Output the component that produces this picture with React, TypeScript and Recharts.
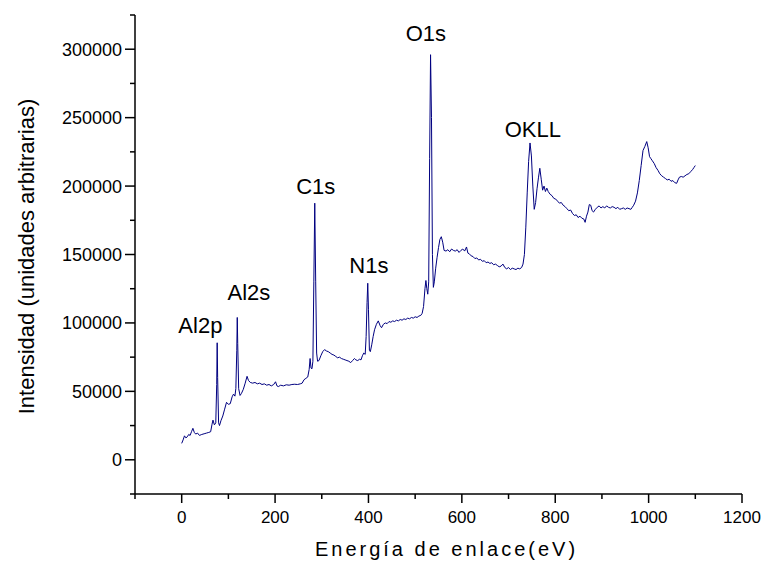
import { Label, Line, LineChart, ReferenceDot, XAxis, YAxis } from "recharts";

// binding energy (eV) and intensity (arb. units)
const energy = [
  0, 3, 6, 9, 12, 15, 18, 21, 24, 27, 30, 34, 38, 43, 48, 53, 58, 62, 65, 67,
  70, 73, 75, 76, 77, 79, 81, 84, 88, 92, 96, 100, 104, 108, 111, 114, 116, 118,
  119, 120, 122, 125, 128, 132, 136, 140, 143, 147, 152, 157, 162, 167, 172, 177,
  182, 187, 192, 197, 201, 204, 207, 212, 218, 224, 230, 236, 242, 248, 254, 258,
  262, 266, 270, 273, 275, 277, 279, 281, 283, 285, 287, 289, 291, 294, 298, 302,
  306, 310, 314, 318, 322, 326, 330, 334, 338, 342, 346, 350, 354, 358, 362, 366,
  370, 373, 377, 381, 384, 387, 390, 393, 395, 397, 398.5, 400, 402, 404, 407, 410,
  413, 417, 421, 425, 428, 432, 436, 440, 444, 448, 452, 456, 460, 464, 468, 472,
  476, 480, 484, 488, 492, 496, 500, 504, 508, 512, 515, 518, 521, 523, 525, 527,
  529, 531, 533, 535, 537, 539, 541, 544, 547, 550, 553, 556, 559, 562, 566, 570,
  574, 578, 582, 586, 590, 594, 598, 602, 606, 610, 613, 616, 620, 624, 628, 632,
  636, 640, 644, 648, 652, 656, 660, 664, 668, 672, 676, 680, 684, 688, 692, 696,
  700, 704, 708, 712, 716, 720, 724, 728, 731, 734, 737, 740, 743, 746, 749, 752,
  755, 758, 761, 764, 767, 770, 773, 776, 779, 782, 785, 789, 793, 797, 801, 805,
  809, 813, 817, 821, 825, 829, 833, 837, 841, 845, 849, 853, 857, 861, 864, 867,
  870, 873, 876, 879, 882, 886, 890, 894, 898, 902, 906, 910, 914, 918, 922, 926,
  930, 934, 938, 942, 946, 950, 954, 958, 962, 965, 968, 972, 976, 980, 984, 988,
  992, 996, 999, 1002, 1005, 1008, 1012, 1016, 1020, 1024, 1028, 1032, 1036, 1040,
  1044, 1048, 1052, 1056, 1060, 1063, 1066, 1070, 1074, 1078, 1082, 1086, 1090,
  1094, 1097, 1100,
];

const intensity = [
  12000, 14500, 17500, 16000, 16800, 18500, 17800, 20500, 23000, 20000, 18800,
  19500, 17800, 18500, 19000, 19500, 20000, 20500, 26000, 29000, 25500, 27000,
  55000, 85500, 60000, 27000, 25000, 28500, 32000, 37000, 42000, 40500, 41000,
  46000, 48000, 46500, 52000, 80000, 104000, 85000, 52000, 47000, 48500, 51500,
  56000, 61000, 58000, 56500, 56000, 56500, 55500, 56000, 55000, 55500, 54500,
  55000, 54000, 55000, 57000, 54000, 53500, 54500, 54000, 54800, 54500, 55000,
  55200, 55000, 55500, 56000, 58500, 59500, 60500, 66000, 74000, 67000, 66500,
  72000, 130000, 187500, 130000, 78000, 72000, 72500, 76000, 79000, 80500, 79500,
  79000, 78000, 77000, 76500, 75500, 74500, 75000, 74000, 73500, 73000, 72500,
  72000, 71000, 72500, 74000, 73000, 72500, 73500, 73000, 76000, 78000, 77000,
  90000, 115000, 129000, 110000, 80000, 79000, 84000, 90000, 95000, 99000, 101500,
  98000, 96500, 99000, 100000, 99500, 101000, 100500, 101500, 101000, 102000,
  101500, 102500, 102000, 103000, 102500, 103500, 103000, 104000, 103500, 104500,
  104000, 105000, 105500, 107000, 112000, 125000, 131000, 125000, 121000, 130000,
  220000, 296000, 250000, 150000, 126000, 130000, 140000, 148000, 155000, 161000,
  163000, 159000, 153000, 152500, 153500, 152000, 154000, 153000, 152500, 153500,
  151500, 153000, 154000, 152500, 155500, 151000, 150500, 149000, 148500, 147000,
  147500, 146000, 146500, 145000, 145500, 144000, 144500, 143500, 144000, 142500,
  143000, 142000, 141000, 141500, 143000, 140500, 139500, 140500, 139000, 140000,
  139500, 139000, 140000, 139500, 140500, 143000, 150000, 170000, 195000, 218000,
  231500, 222000, 200000, 183000, 188000, 198000, 206000, 213000, 205000, 197000,
  200000, 196000, 198500, 196000, 194000, 193000, 191000, 190500, 189000, 187500,
  188000, 186000, 185000, 183500, 182000, 182500, 180000, 178500, 179000, 177000,
  178000, 176500, 176000, 173500, 178000, 181000, 186500, 186000, 182000, 181000,
  183000, 184500, 185500, 184000, 185000, 184000, 185500, 184500, 184000, 185000,
  184500, 183500, 184500, 183000, 183500, 184000, 183000, 184000, 183500, 183000,
  184500, 186000, 189000, 195000, 204000, 215000, 226000, 229000, 232500, 228000,
  221500, 220000, 218500, 216500, 213500, 211500, 209000, 207500, 206500, 205500,
  204500, 205000, 203500, 204000, 202500, 202000, 204500, 206500, 207000, 206500,
  207500, 208500, 209000, 210500, 212000, 213500, 215000,
];

const xTicks = [-100, 0, 100, 200, 300, 400, 500, 600, 700, 800, 900, 1000, 1100, 1200];
const yTicks = [
  -25000, 0, 25000, 50000, 75000, 100000, 125000, 150000, 175000, 200000, 225000,
  250000, 275000, 300000, 325000,
];

// peak labels, anchored at the centre of the text
const peakNames = ["Al2p", "Al2s", "C1s", "N1s", "O1s", "OKLL"];
const peakLabelX = [40, 144, 287, 401, 523, 752];
const peakLabelY = [98600, 122300, 200200, 142000, 311500, 241800];

const data = energy.map((e, i) => ({ e, v: intensity[i] }));

const FONT = "'Liberation Sans', Arial, sans-serif";

function XTick({ x, y, payload }: any) {
  const major = payload.value % 200 === 0;
  return (
    <g>
      <line x1={x} x2={x} y1={y} y2={y + (major ? 9 : 5)} stroke="#000" strokeWidth={1.5} />
      {major && (
        <text x={x} y={y + 29} textAnchor="middle" fontSize={17} fontFamily={FONT} fill="#000">
          {payload.value}
        </text>
      )}
    </g>
  );
}

function YTick({ x, y, payload }: any) {
  const major = payload.value % 50000 === 0;
  return (
    <g>
      <line x1={x} x2={x - (major ? 10 : 5)} y1={y} y2={y} stroke="#000" strokeWidth={1.5} />
      {major && (
        <text x={x - 13} y={y + 6.5} textAnchor="end" fontSize={18} fontFamily={FONT} fill="#000">
          {payload.value}
        </text>
      )}
    </g>
  );
}

function PeakText({ cx, cy, name }: any) {
  return (
    <text x={cx} y={cy + 8} textAnchor="middle" fontSize={22} fontFamily={FONT} fill="#000">
      {name}
    </text>
  );
}

export default function App() {
  return (
    <div style={{ position: "absolute", left: 0, top: 0, background: "#fff" }}>
      <LineChart width={765} height={562} data={data} margin={{ top: 15, right: 23, bottom: 0, left: 0 }}>
        <XAxis
          dataKey="e"
          type="number"
          domain={[-100, 1200]}
          ticks={xTicks}
          interval={0}
          allowDataOverflow
          height={68}
          tickSize={0}
          tickMargin={0}
          tickLine={false}
          tick={<XTick />}
          axisLine={{ stroke: "#000", strokeWidth: 1.5 }}
        >
          <Label
            content={({ viewBox }: any) => (
              <text
                x={viewBox.x + viewBox.width / 2 + 8}
                y={viewBox.y + 62}
                textAnchor="middle"
                fontSize={20}
                letterSpacing={3}
                fontFamily={FONT}
                fill="#000"
              >
                Energía de enlace(eV)
              </text>
            )}
          />
        </XAxis>
        <YAxis
          type="number"
          domain={[-25000, 325000]}
          ticks={yTicks}
          interval={0}
          allowDataOverflow
          width={135}
          tickSize={0}
          tickMargin={0}
          tickLine={false}
          tick={<YTick />}
          axisLine={{ stroke: "#000", strokeWidth: 1.5 }}
        >
          <Label
            content={({ viewBox }: any) => {
              const cx = 26;
              const cy = viewBox.y + viewBox.height / 2 + 2;
              return (
                <text
                  x={cx}
                  y={cy}
                  transform={`rotate(-90 ${cx} ${cy})`}
                  textAnchor="middle"
                  dominantBaseline="central"
                  fontSize={22}
                  fontFamily={FONT}
                  fill="#000"
                >
                  Intensidad (unidades arbitrarias)
                </text>
              );
            }}
          />
        </YAxis>
        <Line
          type="linear"
          dataKey="v"
          stroke="#000080"
          strokeWidth={1}
          dot={false}
          isAnimationActive={false}
        />
        {peakNames.map((name, i) => (
          <ReferenceDot
            key={name}
            x={peakLabelX[i]}
            y={peakLabelY[i]}
            r={0}
            shape={(p: any) => <PeakText {...p} name={name} />}
          />
        ))}
      </LineChart>
    </div>
  );
}
